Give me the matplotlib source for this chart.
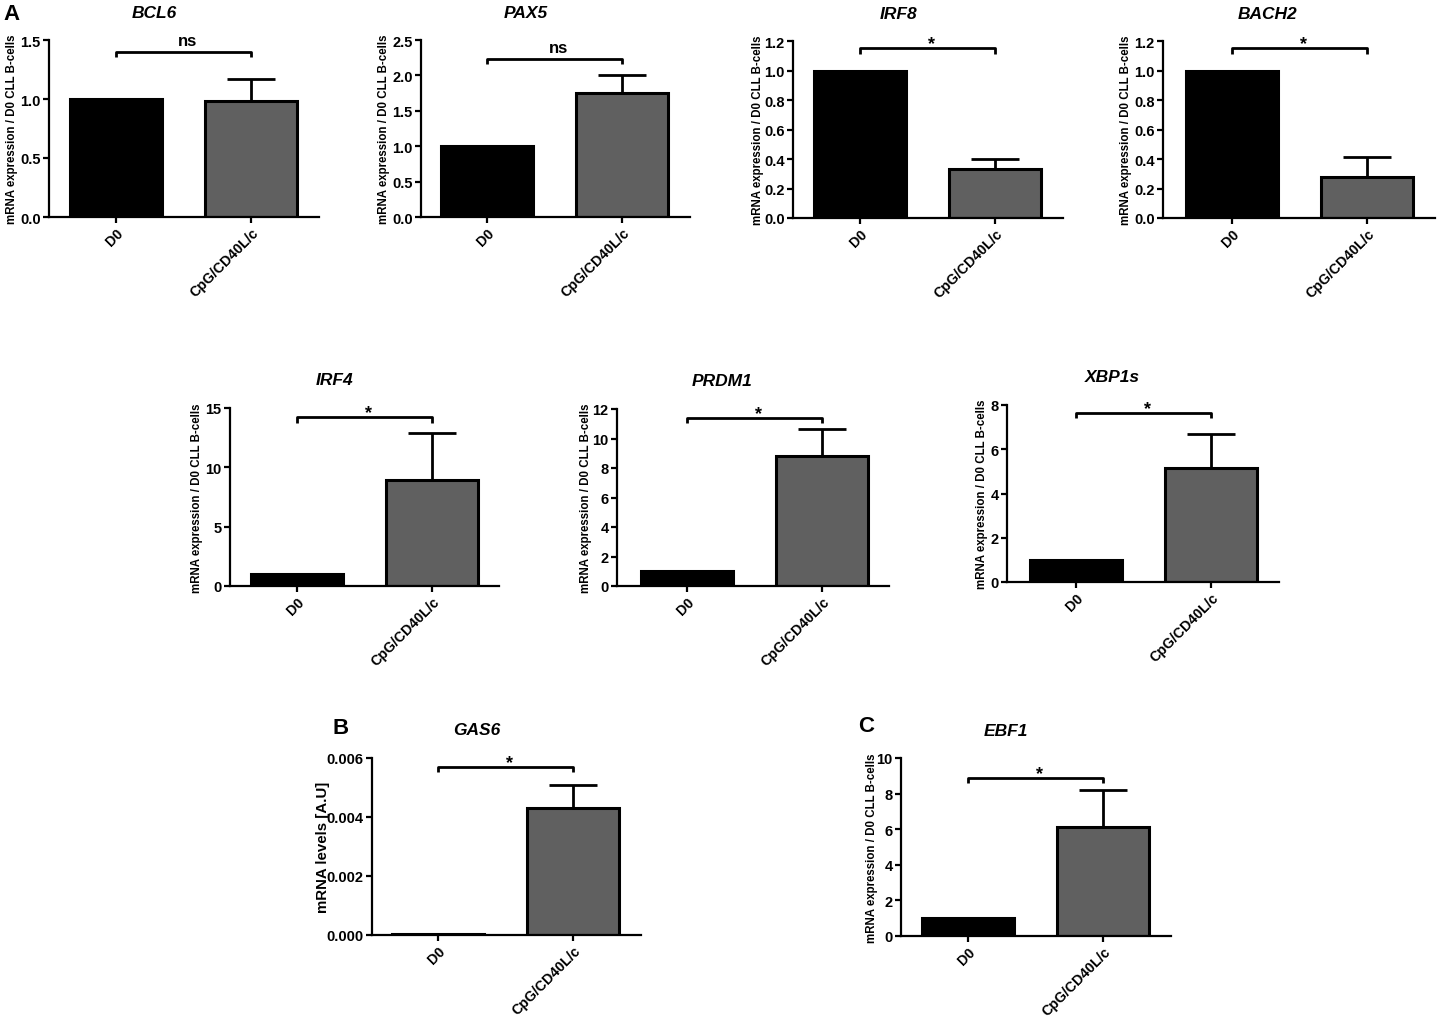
import numpy as np
import matplotlib
matplotlib.use("Agg")
import matplotlib.pyplot as plt

plt.rcParams['font.family'] = ['Liberation Sans', 'DejaVu Sans']
plt.rcParams['font.weight'] = 'bold'

# ---------------- data ----------------
genes = ["BCL6", "PAX5", "IRF8", "BACH2", "IRF4", "PRDM1", "XBP1s", "GAS6", "EBF1"]
groups = ["D0", "CpG/CD40L/c"]
d0_values = [1.0, 1.0, 1.0, 1.0, 1.0, 1.0, 1.0, 0.00003, 1.0]
cpg_values = [0.98, 1.75, 0.33, 0.28, 8.9, 8.8, 5.15, 0.0043, 6.15]
cpg_errors = [0.19, 0.25, 0.07, 0.135, 4.0, 1.85, 1.55, 0.0008, 2.05]
significance = ["ns", "ns", "*", "*", "*", "*", "*", "*", "*"]
y_max = [1.5, 2.5, 1.2, 1.2, 15, 12, 8, 0.006, 10]
y_step = [0.5, 0.5, 0.2, 0.2, 5, 2, 2, 0.002, 2]
y_decimals = [1, 1, 1, 1, 0, 0, 0, 3, 0]
bracket_y = [1.40, 2.23, 1.15, 1.15, 14.2, 11.4, 7.64, 0.0057, 8.88]
y_labels = ["mRNA expression / D0 CLL B-cells"] * 7 + ["mRNA levels [A.U]",
                                                       "mRNA expression / D0 CLL B-cells"]

# ---------------- layout in pixels ----------------
W, H = 1439, 1020
# spine left, top of y axis, baseline, D0 tick position, ylabel offset (right edge)
layout = [
    (49, 41, 218, 116, 31),
    (421, 41, 218, 487, 31),
    (793, 42, 219, 860, 29),
    (1163, 42, 219, 1232, 31),
    (230, 409, 587, 297, 27),
    (617, 410, 587, 687, 25),
    (1007, 406, 583, 1076, 19),
    (372, 759, 936, 438, 42),
    (901, 759, 937, 968, 23),
]
unit_px = 135.0   # distance between the two bars
bar_width = 0.675

fig = plt.figure(figsize=(W / 100, H / 100), dpi=100)

for i, gene in enumerate(genes):
    left, top, base, c0, lab_off = layout[i]
    x0 = -(c0 - left) / unit_px
    width_px = 2.0 * unit_px - (left - (c0 - 67.5))
    ax = fig.add_axes([left / W, 1 - base / H, width_px / W, (base - top) / H])

    x = np.arange(len(groups))
    ax.bar(x, [d0_values[i], cpg_values[i]], width=bar_width,
           color=["black", "#606060"], edgecolor="black", linewidth=2.2, zorder=2)
    ax.errorbar(1, cpg_values[i], yerr=[[0], [cpg_errors[i]]], fmt="none",
                ecolor="black", elinewidth=2, capsize=17, capthick=2, zorder=1)

    ax.set_xlim(x0, x0 + width_px / unit_px)
    ax.set_ylim(0, y_max[i])
    ticks = np.arange(0, y_max[i] + y_step[i] / 2, y_step[i])
    ax.set_yticks(ticks)
    ax.set_yticklabels([f"{t:.{y_decimals[i]}f}" for t in ticks])
    ax.set_xticks(x)
    ax.set_xticklabels(groups, rotation=45, ha="right", rotation_mode="anchor",
                       fontsize=10.2, fontweight="bold")

    for side in ["top", "right"]:
        ax.spines[side].set_visible(False)
    for side in ["left", "bottom"]:
        ax.spines[side].set_linewidth(1.6)
    ax.tick_params(axis="both", direction="out", length=4, width=1.6,
                   labelsize=10.5, pad=2)
    ax.tick_params(axis="x", pad=2, labelsize=10.2)
    for lab in ax.get_yticklabels():
        lab.set_fontweight("bold")

    fs_lab = 10.8 if gene == "GAS6" else 8.3
    ax.set_ylabel(y_labels[i], fontsize=fs_lab, fontweight="bold")
    ax.yaxis.set_label_coords(-lab_off / width_px, 0.5)

    # title
    ax.text(105 / width_px, 1 + 28 / (base - top), gene, transform=ax.transAxes,
            ha="center", va="center", fontsize=12.5, fontweight="bold",
            style="italic")

    # significance bracket
    yb = bracket_y[i]
    leg = 0.03 * y_max[i]
    ax.plot([0, 0, 1, 1], [yb - leg, yb, yb, yb - leg], color="black",
            linewidth=2, clip_on=False, solid_capstyle="butt")
    off = 5 if significance[i] == "ns" else 0
    ax.annotate(significance[i], xy=(0.5, yb), xytext=(3, off),
                textcoords="offset points", ha="center", va="baseline",
                fontsize=12 if significance[i] == "ns" else 13,
                fontweight="bold", annotation_clip=False)

# panel letters
fig.text(11 / W, 1 - 15 / H, "A", fontsize=16, fontweight="bold", ha="center", va="center")
fig.text(341 / W, 1 - 729 / H, "B", fontsize=16, fontweight="bold", ha="center", va="center")
fig.text(866 / W, 1 - 727 / H, "C", fontsize=16, fontweight="bold", ha="center", va="center")

fig.savefig("out.png", dpi=100)
